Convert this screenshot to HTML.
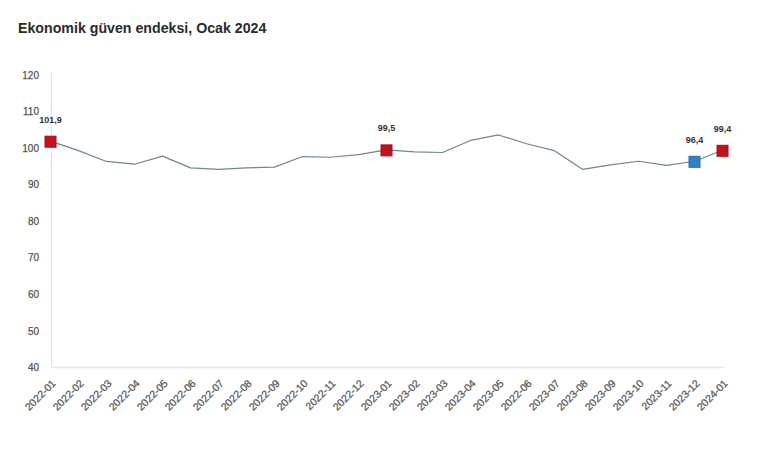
<!DOCTYPE html>
<html><head><meta charset="utf-8"><style>
html,body{margin:0;padding:0;background:#fff;}
body{width:760px;height:450px;overflow:hidden;position:relative;font-family:"Liberation Sans",sans-serif;}
.t{position:absolute;left:18px;top:20px;font-size:14.2px;font-weight:bold;color:#2b2b2b;white-space:nowrap;}
svg{position:absolute;left:0;top:0;}
.yl text{font-size:10px;fill:#555;stroke:#555;stroke-width:0.25px;}
.xl text{font-size:10.5px;fill:#555;stroke:#555;stroke-width:0.25px;}
.dl{font-size:9px;font-weight:bold;fill:#333;}
</style></head><body>
<div class="t">Ekonomik güven endeksi, Ocak 2024</div>
<svg width="760" height="450" viewBox="0 0 760 450" font-family="Liberation Sans, sans-serif">
<line x1="51.5" y1="73" x2="51.5" y2="368" stroke="#e0e0e0" stroke-width="1"/>
<line x1="51" y1="367.5" x2="724" y2="367.5" stroke="#e6e6e6" stroke-width="1.5"/>
<g class="yl"><text x="39" y="78.6" text-anchor="end">120</text><text x="39" y="115.2" text-anchor="end">110</text><text x="39" y="151.7" text-anchor="end">100</text><text x="39" y="188.3" text-anchor="end">90</text><text x="39" y="224.8" text-anchor="end">80</text><text x="39" y="261.4" text-anchor="end">70</text><text x="39" y="298.0" text-anchor="end">60</text><text x="39" y="334.5" text-anchor="end">50</text><text x="39" y="371.1" text-anchor="end">40</text></g>
<g class="xl"><text transform="translate(56.5,384) rotate(-45)" text-anchor="end">2022-01</text><text transform="translate(84.5,384) rotate(-45)" text-anchor="end">2022-02</text><text transform="translate(112.5,384) rotate(-45)" text-anchor="end">2022-03</text><text transform="translate(140.5,384) rotate(-45)" text-anchor="end">2022-04</text><text transform="translate(168.5,384) rotate(-45)" text-anchor="end">2022-05</text><text transform="translate(196.5,384) rotate(-45)" text-anchor="end">2022-06</text><text transform="translate(224.5,384) rotate(-45)" text-anchor="end">2022-07</text><text transform="translate(252.5,384) rotate(-45)" text-anchor="end">2022-08</text><text transform="translate(280.5,384) rotate(-45)" text-anchor="end">2022-09</text><text transform="translate(308.5,384) rotate(-45)" text-anchor="end">2022-10</text><text transform="translate(336.5,384) rotate(-45)" text-anchor="end">2022-11</text><text transform="translate(364.5,384) rotate(-45)" text-anchor="end">2022-12</text><text transform="translate(392.5,384) rotate(-45)" text-anchor="end">2023-01</text><text transform="translate(420.5,384) rotate(-45)" text-anchor="end">2023-02</text><text transform="translate(448.5,384) rotate(-45)" text-anchor="end">2023-03</text><text transform="translate(476.5,384) rotate(-45)" text-anchor="end">2023-04</text><text transform="translate(504.5,384) rotate(-45)" text-anchor="end">2023-05</text><text transform="translate(532.5,384) rotate(-45)" text-anchor="end">2022-06</text><text transform="translate(560.5,384) rotate(-45)" text-anchor="end">2023-07</text><text transform="translate(588.5,384) rotate(-45)" text-anchor="end">2023-08</text><text transform="translate(616.5,384) rotate(-45)" text-anchor="end">2023-09</text><text transform="translate(644.5,384) rotate(-45)" text-anchor="end">2023-10</text><text transform="translate(672.5,384) rotate(-45)" text-anchor="end">2023-11</text><text transform="translate(700.5,384) rotate(-45)" text-anchor="end">2023-12</text><text transform="translate(728.5,384) rotate(-45)" text-anchor="end">2024-01</text></g>
<polyline points="50.50,141.17 78.50,150.68 106.50,161.46 134.50,164.21 162.50,156.16 190.50,167.86 218.50,169.32 246.50,167.86 274.50,167.13 302.50,156.53 330.50,157.26 358.50,154.70 386.50,149.95 414.50,151.78 442.50,152.51 470.50,140.44 498.50,134.96 526.50,143.73 554.50,150.68 582.50,169.32 610.50,164.94 638.50,161.28 666.50,165.30 694.50,161.28 722.50,150.31" fill="none" stroke="#708690" stroke-width="1.2" stroke-linejoin="round"/>
<rect x="45.0" y="136.2" width="11" height="11" fill="#c2121f" stroke="#a3101c" stroke-width="1"/><text x="50.5" y="122.7" text-anchor="middle" class="dl">101,9</text><rect x="381.0" y="144.9" width="11" height="11" fill="#c2121f" stroke="#a3101c" stroke-width="1"/><text x="386.5" y="131.4" text-anchor="middle" class="dl">99,5</text><rect x="689.0" y="156.3" width="11" height="11" fill="#2f80c8" stroke="#2a6aa6" stroke-width="1"/><text x="694.5" y="142.8" text-anchor="middle" class="dl">96,4</text><rect x="717.0" y="145.3" width="11" height="11" fill="#c2121f" stroke="#a3101c" stroke-width="1"/><text x="722.5" y="131.8" text-anchor="middle" class="dl">99,4</text>
</svg>
</body></html>
